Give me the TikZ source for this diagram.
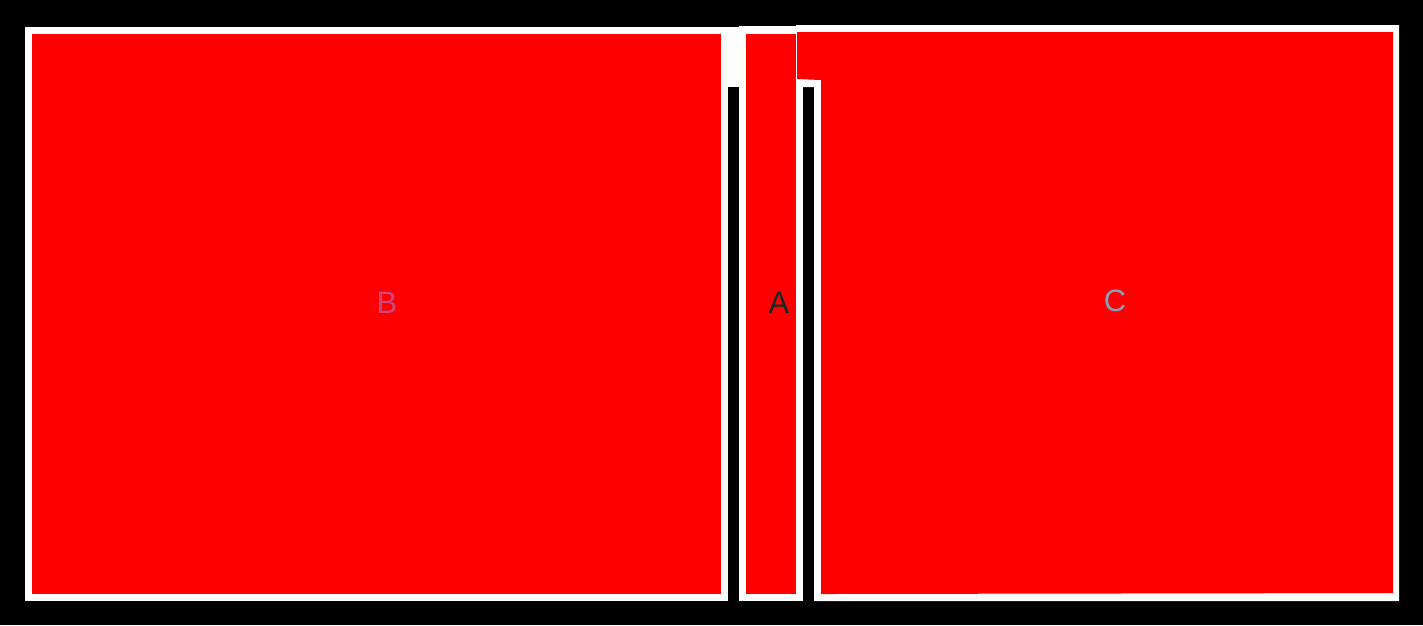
\documentclass[tikz,border=0pt]{standalone}
\usepackage{fontspec}
\setmainfont{Liberation Sans}

\definecolor{roomred}{RGB}{255,0,0}
\definecolor{tagB}{RGB}{204,70,130}
\definecolor{tagA}{RGB}{20,40,40}
\definecolor{tagC}{RGB}{135,162,190}

\begin{document}
\begin{tikzpicture}[
  x=0.1mm, y=-0.1mm,
  wall/.style={fill=white},
  room/.style={fill=roomred},
  lbl/.style={font=\fontsize{8.8}{10}\selectfont, inner sep=0pt}
]
  \fill[black] (0,0) rectangle (1423,625);

  % white walls round each room, and the fillers over the two gaps
  \fill[wall] (25,27) rectangle (728,601);
  \fill[wall] (721,27) rectangle (746,87);
  \fill[wall] (739,26) rectangle (803,601);
  \fill[wall] (796,25) -- (1399,25) -- (1399,601) -- (814,601) -- (814,87) -- (796,87) -- cycle;

  % rooms
  \fill[room] (32,34) rectangle (721,594);
  \fill[room] (746,34) rectangle (796,594);
  \fill[room] (797,32) -- (1393,32) -- (1393,593) -- (821,594) -- (821,80) -- (797,79) -- cycle;

  \node[lbl, text=tagB] (labB) at (387,303) {B};
  \node[lbl, text=tagA] (labA) at (779,303) {A};
  \node[lbl, text=tagC] (labC) at (1115,301) {C};
\end{tikzpicture}
\end{document}
